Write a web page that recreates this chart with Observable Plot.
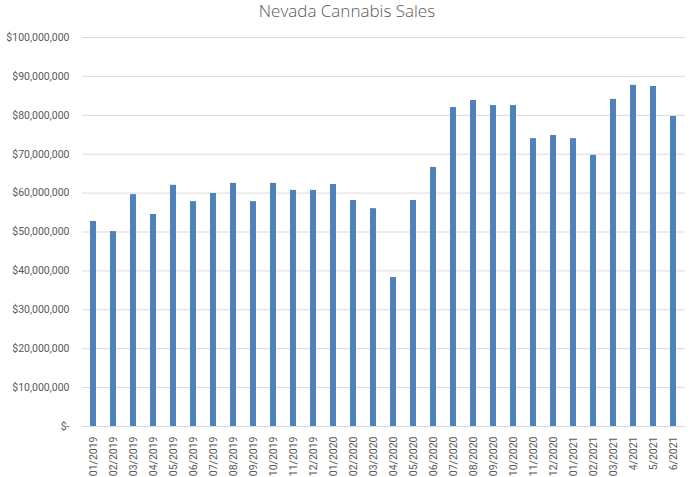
<!DOCTYPE html>
<html>
<head>
<meta charset="utf-8">
<script src="https://cdn.jsdelivr.net/npm/d3@7"></script>
<script src="https://cdn.jsdelivr.net/npm/@observablehq/plot@0.6"></script>
<style>
  body { margin: 0; background: #fff; }
  #title { height: 25px; line-height: 22px; text-align: center; font-family: "Open Sans", sans-serif; font-weight: 300; font-size: 17px; color: #595959; }
  svg { display: block; }
</style>
</head>
<body>
<div id="title">Nevada Cannabis Sales</div>
<div id="chart"></div>
<script>
const months = ["01/2019","02/2019","03/2019","04/2019","05/2019","06/2019","07/2019","08/2019","09/2019","10/2019","11/2019","12/2019","01/2020","02/2020","03/2020","04/2020","05/2020","06/2020","07/2020","08/2020","09/2020","10/2020","11/2020","12/2020","01/2021","02/2021","03/2021","4/2021","5/2021","6/2021"];
const sales = [52.7,50.1,59.6,54.5,62.0,57.8,59.9,62.5,57.8,62.5,60.7,60.7,62.2,58.1,56.0,38.3,58.1,66.6,82.0,83.8,82.5,82.5,74.0,74.8,74.0,69.7,84.1,87.7,87.4,79.7].map(v => v * 1e6);
const yTicks = [0,10e6,20e6,30e6,40e6,50e6,60e6,70e6,80e6,90e6,100e6];

const data = months.map((m, i) => ({month: m, sales: sales[i]}));
const fmt = v => v === 0 ? "$-" : "$" + d3.format(",")(v);

const chart = Plot.plot({
  width: 694,
  height: 452,
  marginTop: 12,
  marginBottom: 51,
  marginLeft: 82,
  marginRight: 9,
  style: {fontFamily: "Roboto, sans-serif", fontSize: "10.5px", color: "#595959"},
  x: {domain: months, paddingInner: 0.68, paddingOuter: 0.34, label: null},
  y: {domain: [0, 100e6], label: null},
  marks: [
    Plot.gridY(yTicks, {stroke: "#d9d9d9", strokeOpacity: 1, strokeWidth: 1}),
    Plot.barY(data, {x: "month", y: "sales", fill: "#4f81bd"}),
    Plot.axisY(yTicks, {tickFormat: fmt, tickSize: 0, tickPadding: 13, label: null, fill: "#595959"}),
    Plot.axisX({tickRotate: -90, tickSize: 0, tickPadding: 10, label: null, fill: "#595959"})
  ]
});
document.getElementById("chart").appendChild(chart);
</script>
</body>
</html>
